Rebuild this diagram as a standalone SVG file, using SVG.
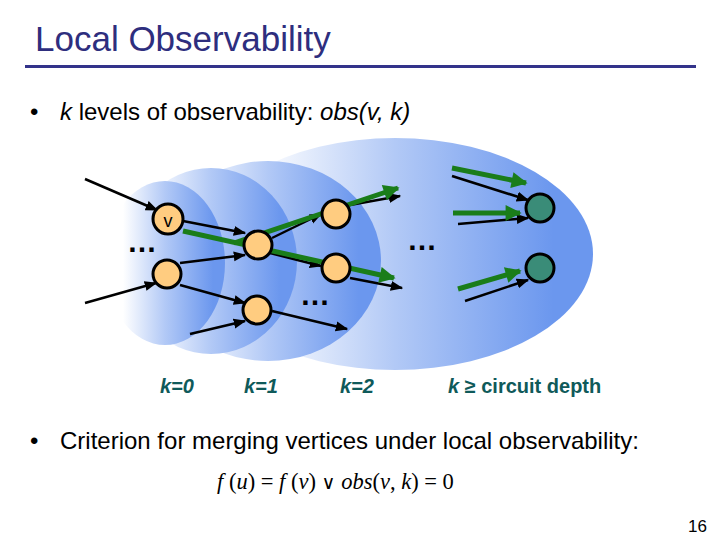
<svg xmlns="http://www.w3.org/2000/svg" width="720" height="540" viewBox="0 0 720 540">
<defs>
<linearGradient id="g" x1="0" y1="0" x2="1" y2="0">
<stop offset="0.15" stop-color="#ffffff"/>
<stop offset="0.5" stop-color="#b2c9f6"/>
<stop offset="0.9" stop-color="#6b97ee"/>
</linearGradient>
<marker id="ab" viewBox="0 0 10 10" refX="9" refY="5" markerWidth="5" markerHeight="5" orient="auto" markerUnits="strokeWidth">
<path d="M0,1 L10,5 L0,9 z" fill="#000"/>
</marker>
<marker id="ag" viewBox="0 0 10 10" refX="9" refY="5" markerWidth="4" markerHeight="3.2" orient="auto" markerUnits="strokeWidth">
<path d="M0,0 L10,5 L0,10 z" fill="#1a7d1a"/>
</marker>
</defs>
<style>
.bl{stroke:#000;stroke-width:2.5;fill:none;marker-end:url(#ab)}
.gr{stroke:#1a7d1a;stroke-width:5;fill:none;marker-end:url(#ag)}
.n{fill:#ffcc80;stroke:#000;stroke-width:3}
.t{fill:#3a8c78;stroke:#000;stroke-width:3}
.k{font-family:"Liberation Sans",Arial,sans-serif;font-size:20px;font-weight:bold;fill:#0f5a5a}
.dots{font-family:"Liberation Sans",Arial,sans-serif;font-size:30px;font-weight:bold;fill:#000}
.body{font-family:"Liberation Sans",Arial,sans-serif;font-size:24px;fill:#000}
</style>
<rect width="720" height="540" fill="#fff"/>
<text x="35" y="51" font-family="Liberation Sans, Arial, sans-serif" font-size="35" fill="#2e2e7e">Local Observability</text>
<rect x="25" y="65" width="671" height="3" fill="#33338a"/>
<text class="body" x="30" y="120">•</text>
<text class="body" x="60" y="120"><tspan font-style="italic">k</tspan> levels of observability: <tspan font-style="italic">obs(v, k)</tspan></text>
<g id="regions">
<ellipse cx="395" cy="254" rx="198" ry="116" fill="url(#g)"/>
<ellipse cx="268" cy="261" rx="113" ry="100" fill="url(#g)"/>
<ellipse cx="211" cy="261" rx="86" ry="93" fill="url(#g)"/>
<ellipse cx="165" cy="263" rx="60" ry="82" fill="url(#g)"/>
</g>
<g id="connectors">
<line class="bl" x1="85" y1="179" x2="157" y2="210"/>
<line class="bl" x1="183" y1="221" x2="245" y2="233"/>
<line class="bl" x1="180" y1="263" x2="245" y2="255"/>
<line class="bl" x1="85" y1="303" x2="156" y2="283"/>
<line class="bl" x1="180" y1="285" x2="245" y2="303"/>
<line class="bl" x1="190" y1="334" x2="245" y2="321"/>
<line class="bl" x1="272" y1="311" x2="347" y2="329"/>
<line class="bl" x1="272" y1="238" x2="321" y2="214"/>
<line class="bl" x1="270" y1="253" x2="321" y2="266"/>
<line class="bl" x1="350" y1="205" x2="400" y2="196"/>
<line class="bl" x1="350" y1="278" x2="402" y2="288"/>
<line class="bl" x1="452" y1="176" x2="528" y2="200"/>
<line class="bl" x1="458" y1="224" x2="528" y2="218"/>
<line class="bl" x1="465" y1="301" x2="528" y2="280"/>
<line class="gr" x1="183" y1="231" x2="394" y2="278"/>
<line class="gr" x1="234" y1="243" x2="398" y2="188"/>
<line class="gr" x1="452" y1="168" x2="526" y2="183"/>
<line class="gr" x1="453" y1="213" x2="520" y2="213"/>
<line class="gr" x1="458" y1="289" x2="520" y2="271"/>
</g>
<g id="v"><circle class="n" cx="168" cy="219" r="15"/><text x="168" y="227" text-anchor="middle" font-family="Liberation Sans, Arial, sans-serif" font-size="18" fill="#000">v</text></g>
<g id="n1"><circle class="n" cx="167" cy="274" r="14"/></g>
<g id="n2"><circle class="n" cx="258" cy="245" r="14"/></g>
<g id="n3"><circle class="n" cx="257" cy="310" r="14"/></g>
<g id="n4"><circle class="n" cx="336" cy="214" r="14"/></g>
<g id="n5"><circle class="n" cx="336" cy="268" r="14"/></g>
<g id="o1"><circle class="t" cx="540" cy="208" r="14"/></g>
<g id="o2"><circle class="t" cx="540" cy="268" r="14"/></g>
<text class="dots" x="127" y="252">…</text>
<text class="dots" x="407" y="250">…</text>
<text class="dots" x="300" y="305">…</text>
<text class="k" x="160" y="393" font-style="italic">k=0</text>
<text class="k" x="244" y="393" font-style="italic">k=1</text>
<text class="k" x="340" y="393" font-style="italic">k=2</text>
<text class="k" x="448" y="393"><tspan font-style="italic">k</tspan> ≥ circuit depth</text>
<text class="body" x="30" y="449">•</text>
<text class="body" x="60" y="449">Criterion for merging vertices under local observability:</text>
<text x="217" y="489" font-family="Liberation Serif, Times New Roman, serif" font-size="22.5" fill="#000"><tspan font-style="italic">f</tspan> (<tspan font-style="italic">u</tspan>) = <tspan font-style="italic">f</tspan> (<tspan font-style="italic">v</tspan>) <tspan font-family="DejaVu Sans, sans-serif" font-size="19">∨</tspan> <tspan font-style="italic">obs</tspan>(<tspan font-style="italic">v</tspan>, <tspan font-style="italic">k</tspan>) = 0</text>
<text x="707" y="532" text-anchor="end" font-family="Liberation Sans, Arial, sans-serif" font-size="17" fill="#000">16</text>
</svg>
